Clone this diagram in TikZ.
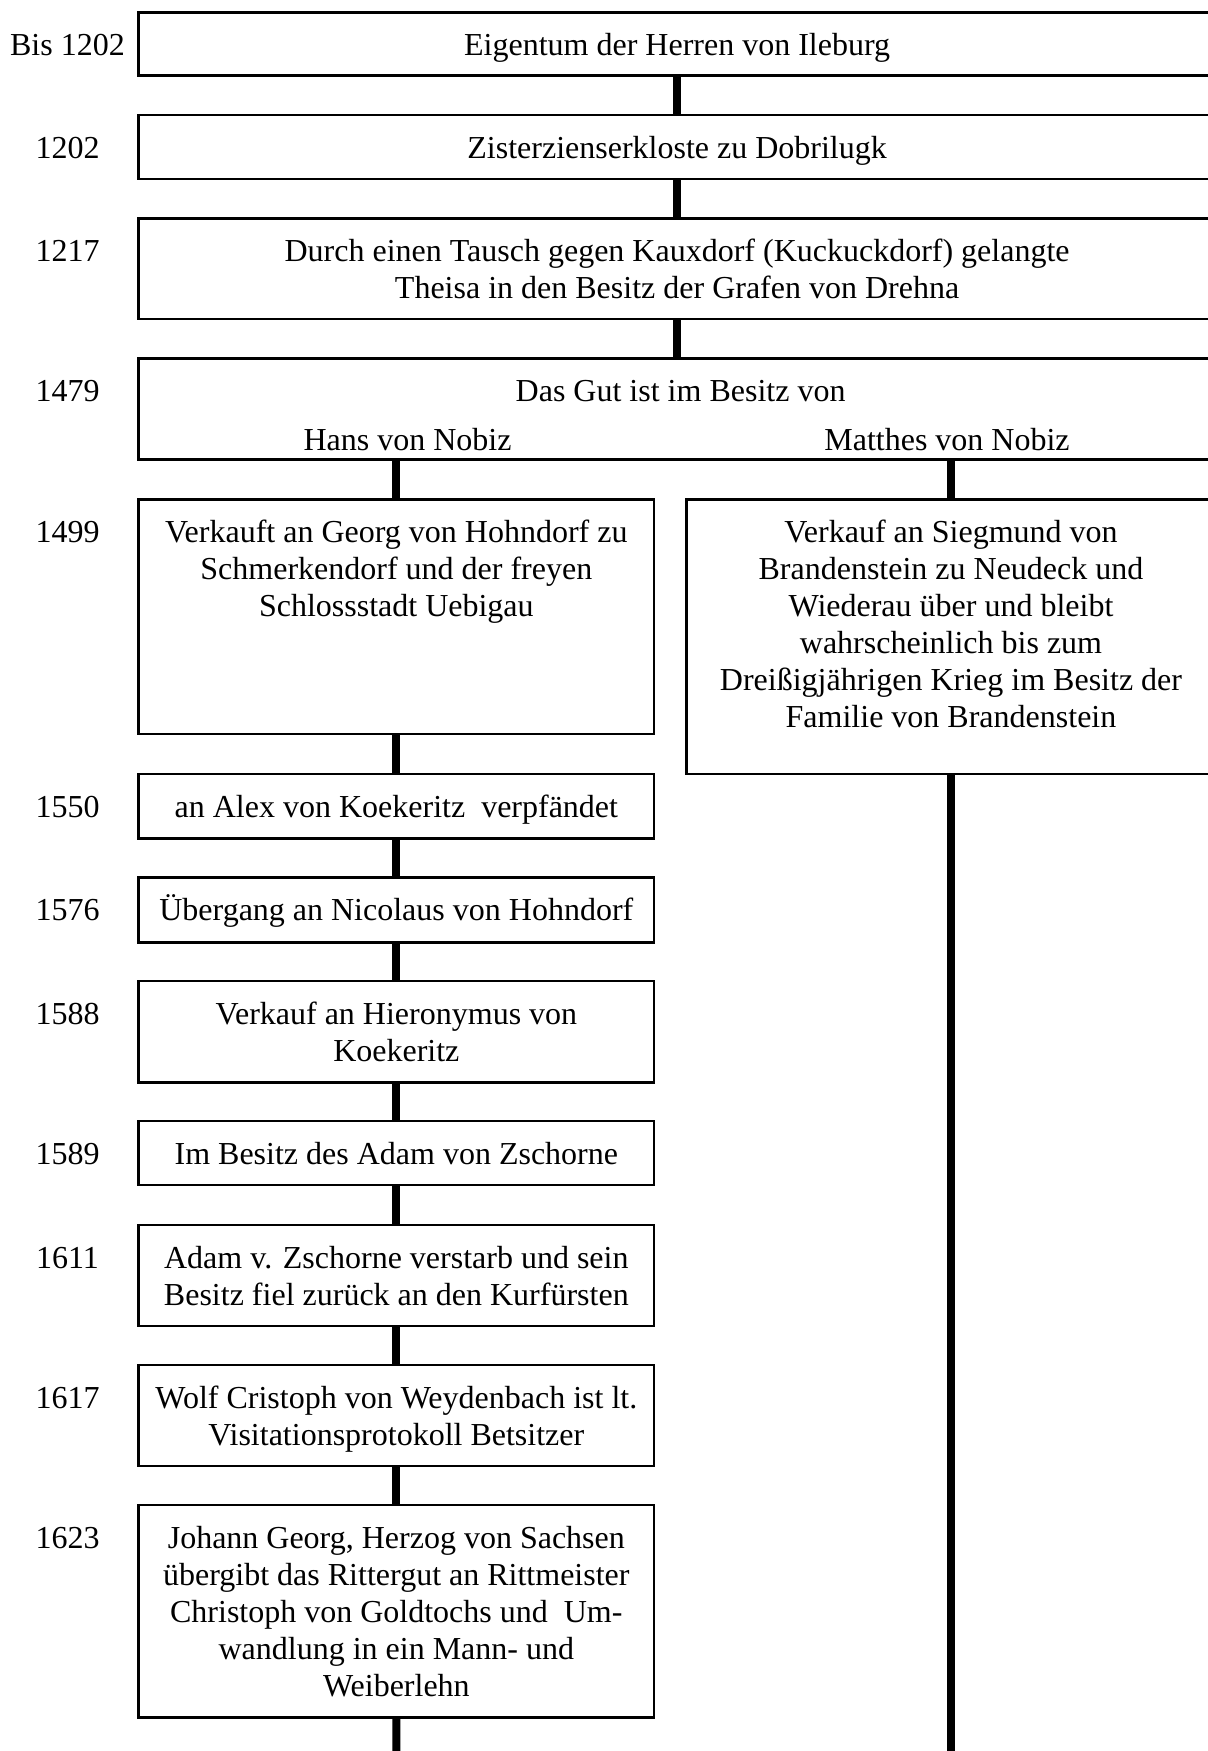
\documentclass[tikz,border=0pt]{standalone}
\usepackage{fontspec}
\setmainfont{Liberation Serif}
\usetikzlibrary{positioning}
\newcommand\fs{\rule{0pt}{15pt}}
\tikzset{
  box/.style={draw, line width=1.4pt, inner sep=0pt, outer sep=0pt, anchor=north west},
  txt/.style={font=\fontsize{16}{18.5}\selectfont, inner sep=0pt, outer sep=0pt, align=center},
  yr/.style={font=\fontsize{16}{18.5}\selectfont, inner sep=0pt, anchor=base},
  conn/.style={line width=4pt},
}
\begin{document}
\begin{tikzpicture}[x=0.5pt,y=-0.5pt]
\useasboundingbox (0,0) rectangle (1208,1751);
\fill[white] (0,0) rectangle (1208,1751);
\clip (0,0) rectangle (1208,1751);
% boxes
\node[box, minimum width=538.4pt, minimum height=31.5pt] (B1) at (138.7,12.3) {};
\node[box, minimum width=538.4pt, minimum height=32pt] (B2) at (138.7,115) {};
\node[box, minimum width=538.4pt, minimum height=50.35pt] (B3) at (138.7,218.3) {};
\node[box, minimum width=538.4pt, minimum height=50.7pt] (B4) at (138.7,358.3) {};
\node[box, minimum width=257.65pt, minimum height=117.35pt] (L1) at (138.7,499.3) {};
\node[box, minimum width=264.5pt, minimum height=137.35pt] (R1) at (686.5,499.3) {};
\node[box, minimum width=257.65pt, minimum height=32.15pt] (L2) at (138.7,774) {};
\node[box, minimum width=257.65pt, minimum height=32.5pt] (L3) at (138.7,877.3) {};
\node[box, minimum width=257.65pt, minimum height=50.85pt] (L4) at (138.7,981) {};
\node[box, minimum width=257.65pt, minimum height=32pt] (L5) at (138.7,1121) {};
\node[box, minimum width=257.65pt, minimum height=50.5pt] (L6) at (138.7,1225) {};
\node[box, minimum width=257.65pt, minimum height=50.5pt] (L7) at (138.7,1365) {};
\node[box, minimum width=257.65pt, minimum height=106.15pt] (L8) at (138.7,1505) {};
% texts
\node[txt, below=6.5pt of B1.north] (tB1) {\fs Eigentum der Herren von Ileburg};
\node[txt, below=6.5pt of B2.north] (tB2) {\fs Zisterzienserkloste zu Dobrilugk};
\node[txt, below=6.5pt of B3.north] (tB3) {\fs Durch einen Tausch gegen Kauxdorf (Kuckuckdorf) gelangte\\Theisa in den Besitz der Grafen von Drehna};
\node[txt, below=6.5pt of B4.north, xshift=1.75pt] (tB4) {\fs Das Gut ist im Besitz von};
\node[yr] (hans) at (407.5,450) {Hans von Nobiz};
\node[yr] (matthes) at (947,450) {Matthes von Nobiz};
\node[txt, below=6.5pt of L1.north] (tL1) {\fs Verkauft an Georg von Hohndorf zu\\Schmerkendorf und der freyen\\Schlossstadt Uebigau};
\node[txt, below=6.5pt of R1.north] (tR1) {\fs Verkauf an Siegmund von\\Brandenstein zu Neudeck und\\Wiederau über und bleibt\\wahrscheinlich bis zum\\Dreißigjährigen Krieg im Besitz der\\Familie von Brandenstein};
\node[txt, below=6.5pt of L2.north] (tL2) {\fs an Alex von Koekeritz\ \ verpfändet};
\node[txt, below=6.5pt of L3.north] (tL3) {\fs Übergang an Nicolaus von Hohndorf};
\node[txt, below=6.5pt of L4.north] (tL4) {\fs Verkauf an Hieronymus von\\Koekeritz};
\node[txt, below=6.5pt of L5.north] (tL5) {\fs Im Besitz des Adam von Zschorne};
\node[txt, below=6.5pt of L6.north] (tL6) {\fs Adam v. Zschorne verstarb und sein\\Besitz fiel zurück an den Kurfürsten};
\node[txt, below=6.5pt of L7.north] (tL7) {\fs Wolf Cristoph von Weydenbach ist lt.\\Visitationsprotokoll Betsitzer};
\node[txt, below=6.5pt of L8.north] (tL8) {\fs Johann Georg, Herzog von Sachsen\\übergibt das Rittergut an Rittmeister\\Christoph von Goldtochs und\ \ Um-\\wandlung in ein Mann- und\\Weiberlehn};
% years
\node[yr] (y1) at (67.5,55.3) {Bis 1202};
\node[yr] (y2) at (67.5,158) {1202};
\node[yr] (y3) at (67.5,261.3) {1217};
\node[yr] (y4) at (67.5,401.3) {1479};
\node[yr] (y5) at (67.5,542.3) {1499};
\node[yr] (y6) at (67.5,817) {1550};
\node[yr] (y7) at (67.5,920.3) {1576};
\node[yr] (y8) at (67.5,1024) {1588};
\node[yr] (y9) at (67.5,1164) {1589};
\node[yr] (y10) at (67.5,1268) {1611};
\node[yr] (y11) at (67.5,1408) {1617};
\node[yr] (y12) at (67.5,1548) {1623};
% connectors
\coordinate (lend) at (396.35,1760);
\coordinate (rend) at (951,1760);
\draw[conn] (B1.south) -- (B2.north);
\draw[conn] (B2.south) -- (B3.north);
\draw[conn] (B3.south) -- (B4.north);
\draw[conn] (L1.north |- B4.south) -- (L1.north);
\draw[conn] (R1.north |- B4.south) -- (R1.north);
\draw[conn] (L1.south) -- (L2.north);
\draw[conn] (L2.south) -- (L3.north);
\draw[conn] (L3.south) -- (L4.north);
\draw[conn] (L4.south) -- (L5.north);
\draw[conn] (L5.south) -- (L6.north);
\draw[conn] (L6.south) -- (L7.north);
\draw[conn] (L7.south) -- (L8.north);
\draw[conn] (L8.south) -- (lend);
\draw[conn] (R1.south) -- (rend);
\end{tikzpicture}
\end{document}
